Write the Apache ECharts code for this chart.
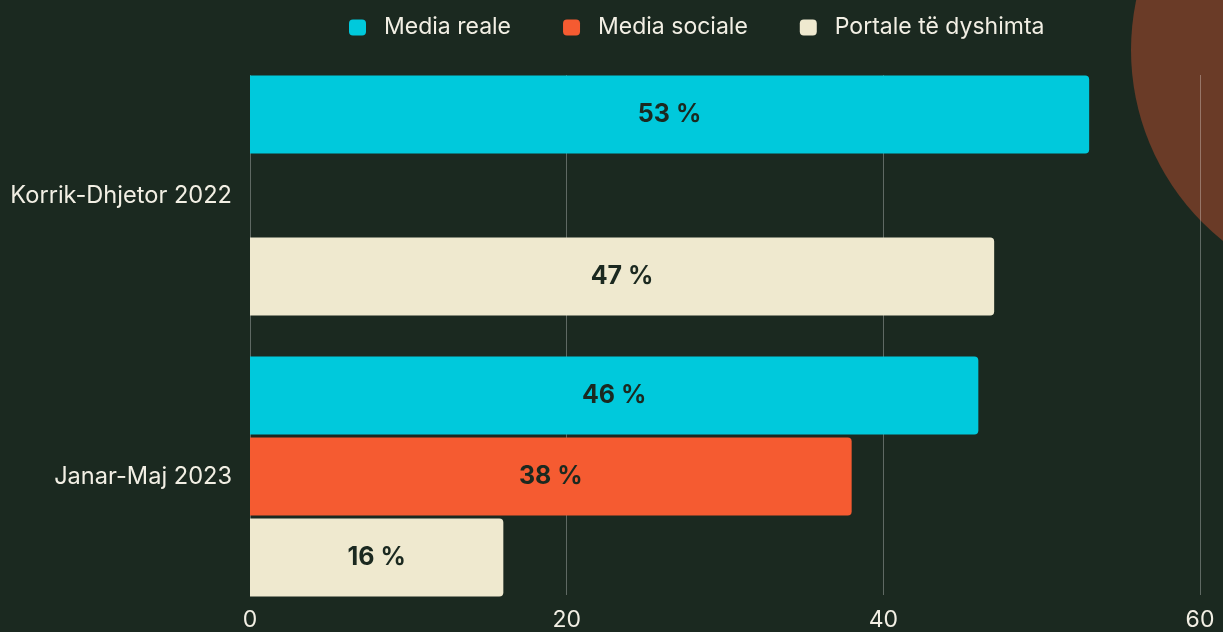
<!DOCTYPE html>
<html>
<head>
<meta charset="utf-8">
<style>
  html, body { margin: 0; padding: 0; background: #1b2920; }
  #chart { width: 1223px; height: 632px; }
</style>
<script src="https://cdn.jsdelivr.net/npm/echarts@6/dist/echarts.min.js"></script>
</head>
<body>
<div id="chart"></div>
<script>
const categories = ['Korrik-Dhjetor 2022', 'Janar-Maj 2023'];
const seriesNames = ['Media reale', 'Media sociale', 'Portale të dyshimta'];
const mediaReale = [53, 46];
const mediaSociale = [null, 38];
const portale = [47, 16];
const xTicks = [0, 20, 40, 60];

const colors = ['#00c9dc', '#f55b31', '#efe9cf'];
const font = 'Inter, "Noto Sans", sans-serif';

const chart = echarts.init(document.getElementById('chart'));

// bars sit in their own grid so the gridlines can stay shorter than the bands
const makeBar = function (name, values, color) {
  return {
    name: name,
    type: 'bar',
    xAxisIndex: 1,
    yAxisIndex: 1,
    data: values,
    barWidth: 78,
    barGap: '4%',
    itemStyle: { color: color, borderRadius: [0, 4, 4, 0] },
    label: {
      show: true,
      position: 'inside',
      formatter: '{c} %',
      color: '#1b2920',
      fontFamily: font,
      fontWeight: 'bold',
      fontSize: 25
    }
  };
};

chart.setOption({
  backgroundColor: '#1b2920',
  animation: false,
  graphic: [{
    type: 'circle',
    z: -10,
    shape: { cx: 1375, cy: 50, r: 244 },
    style: { fill: '#6a3b27' }
  }],
  legend: {
    left: 344,
    top: 11,
    itemWidth: 17,
    itemHeight: 16,
    itemGap: 52,
    icon: 'roundRect',
    textStyle: { color: '#f2efe4', fontSize: 23, fontFamily: font, padding: [0, 0, 0, 13] },
    data: seriesNames
  },
  grid: [
    { left: 250, right: 23, top: 75, bottom: 35 },
    { left: 250, right: 23, top: 55, bottom: 15 }
  ],
  xAxis: [{
    gridIndex: 0,
    type: 'value',
    min: xTicks[0],
    max: xTicks[xTicks.length - 1],
    interval: 20,
    axisLine: { show: false },
    axisTick: { show: false },
    axisLabel: { color: '#f2efe4', fontSize: 23, fontFamily: font, margin: 14 },
    splitLine: { lineStyle: { color: 'rgba(255,255,255,0.3)', width: 1 } }
  }, {
    gridIndex: 1,
    type: 'value',
    min: xTicks[0],
    max: xTicks[xTicks.length - 1],
    show: false
  }],
  yAxis: [{
    gridIndex: 0,
    type: 'value',
    show: false
  }, {
    gridIndex: 1,
    type: 'category',
    inverse: true,
    data: categories,
    axisLine: { show: false },
    axisTick: { show: false },
    axisLabel: { color: '#f2efe4', fontSize: 23.6, fontFamily: font, margin: 18 }
  }],
  series: [
    makeBar(seriesNames[0], mediaReale, colors[0]),
    makeBar(seriesNames[1], mediaSociale, colors[1]),
    makeBar(seriesNames[2], portale, colors[2])
  ]
});
</script>
</body>
</html>
